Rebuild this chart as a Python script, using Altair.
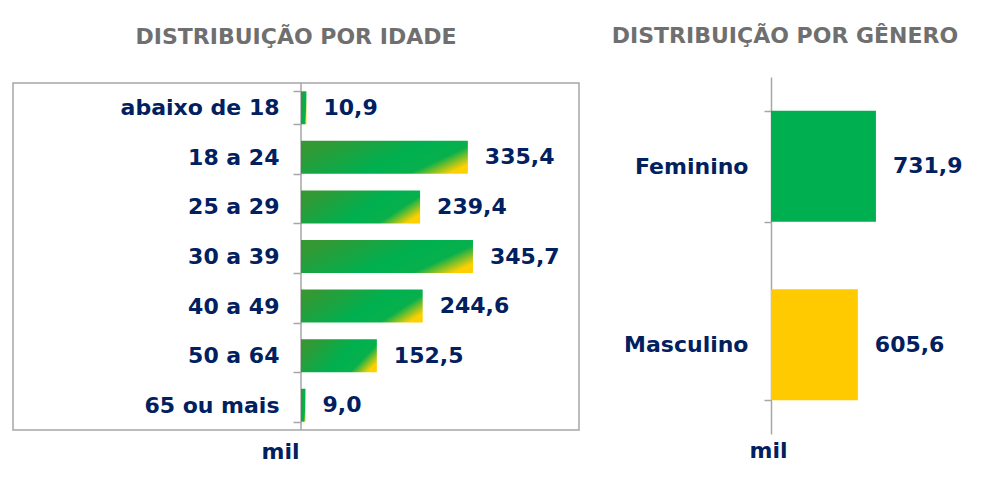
import altair as alt
import pandas as pd

age_groups = ["abaixo de 18", "18 a 24", "25 a 29", "30 a 39", "40 a 49", "50 a 64", "65 ou mais"]
age_values = [10.9, 335.4, 239.4, 345.7, 244.6, 152.5, 9.0]
genders = ["Feminino", "Masculino"]
gender_values = [731.9, 605.6]
gender_colors = ["#00b050", "#ffcb00"]


def fmt(v):
    return f"{v:.1f}".replace(".", ",")


age_df = pd.DataFrame({"faixa": age_groups, "valor": age_values,
                       "rotulo": [fmt(v) for v in age_values]})
gen_df = pd.DataFrame({"genero": genders, "valor": gender_values,
                       "rotulo": [fmt(v) for v in gender_values], "cor": gender_colors})

NAVY = "#002060"
GREY = "#a6a6a6"
TITLE_GREY = "#6f6f6f"
FONT = "DejaVu Sans"

grad = alt.Gradient(
    gradient="linear",
    stops=[alt.GradientStop(color="#349833", offset=0),
           alt.GradientStop(color="#00b050", offset=0.55),
           alt.GradientStop(color="#08b04c", offset=0.8),
           alt.GradientStop(color="#ffd000", offset=1)],
    x1=0, y1=0.3, x2=1, y2=0.72,
)

label_style = dict(font=FONT, fontSize=22, fontWeight="bold", color=NAVY)

# ---------- left: age ----------
TOP = 6          # left panel starts 6px lower than the right one
LH = 353         # left panel height including that shift
y_age = alt.Y("faixa:N", sort=age_groups, title=None,
              scale=alt.Scale(paddingInner=0.335, paddingOuter=0.1675, range=[TOP, LH]),
              axis=alt.Axis(tickBand="extent", tickSize=8, labelPadding=14, domain=False,
                            tickColor=GREY, tickWidth=1.5,
                            labelFont=FONT, labelFontSize=22, labelFontWeight="bold",
                            labelColor=NAVY, labelLimit=300))
x_age = alt.X("valor:Q", scale=alt.Scale(domain=[0, 558.8]),
              axis=alt.Axis(labels=False, ticks=False, domain=False, grid=False,
                            title="mil", titleX=-2, titleY=28, titleAlign="right",
                            titleBaseline="alphabetic", titleFont=FONT, titleFontSize=22,
                            titleFontWeight="bold", titleColor=NAVY))

one = pd.DataFrame({"f": [0]})
frame = alt.Chart(one).mark_rect(
    fillOpacity=0, stroke=GREY, strokeWidth=1.5
).encode(x=alt.value(-288), x2=alt.value(278), y=alt.value(TOP), y2=alt.value(LH))
left_domain = alt.Chart(one).mark_rule(color=GREY, strokeWidth=1.5).encode(
    x=alt.value(0), y=alt.value(TOP), y2=alt.value(LH))

age_base = alt.Chart(age_df).encode(x=x_age, y=y_age)
age_bars = age_base.mark_bar(color=grad)
age_text = age_base.mark_text(align="left", dx=17, **label_style).encode(text="rotulo:N")

left = alt.layer(frame, left_domain, age_bars, age_text).properties(
    width=278, height=LH,
    title=alt.TitleParams("DISTRIBUIÇÃO POR IDADE", font=FONT, fontSize=22, fontWeight="bold",
                          color=TITLE_GREY, anchor="middle", frame="group", dx=-144,
                          offset=0, baseline="alphabetic"),
)

# ---------- right: gender ----------
y_gen = alt.Y("genero:N", sort=genders, title=None,
              scale=alt.Scale(paddingInner=0.378, paddingOuter=0.189),
              axis=alt.Axis(tickBand="extent", tickSize=7, labelPadding=16,
                            domainColor=GREY, tickColor=GREY, domainWidth=1.5, tickWidth=1.5,
                            labelFont=FONT, labelFontSize=22, labelFontWeight="bold",
                            labelColor=NAVY, labelLimit=300))
x_gen = alt.X("valor:Q", scale=alt.Scale(domain=[0, 1325]),
              axis=alt.Axis(labels=False, ticks=False, domain=False, grid=False,
                            title="mil", titleX=-3, titleY=23, titleAlign="center",
                            titleBaseline="alphabetic", titleFont=FONT, titleFontSize=22,
                            titleFontWeight="bold", titleColor=NAVY))

gen_base = alt.Chart(gen_df).encode(x=x_gen, y=y_gen)
gen_bars = gen_base.mark_bar().encode(color=alt.Color("cor:N", scale=None))
gen_text = gen_base.mark_text(align="left", dx=17, **label_style).encode(text="rotulo:N")

right = alt.layer(gen_bars, gen_text).properties(
    width=190, height=357,
    title=alt.TitleParams("DISTRIBUIÇÃO POR GÊNERO", font=FONT, fontSize=22, fontWeight="bold",
                          color=TITLE_GREY, anchor="middle", frame="group", dx=-81,
                          offset=1, baseline="alphabetic"),
)

chart = alt.hconcat(left, right, spacing=31).properties(
    padding={"left": 4, "top": 17, "right": 5, "bottom": 5}
).configure_view(strokeWidth=0).configure_axis(grid=False)

chart.save("out.html", embed_options={"renderer": "svg", "actions": False})
